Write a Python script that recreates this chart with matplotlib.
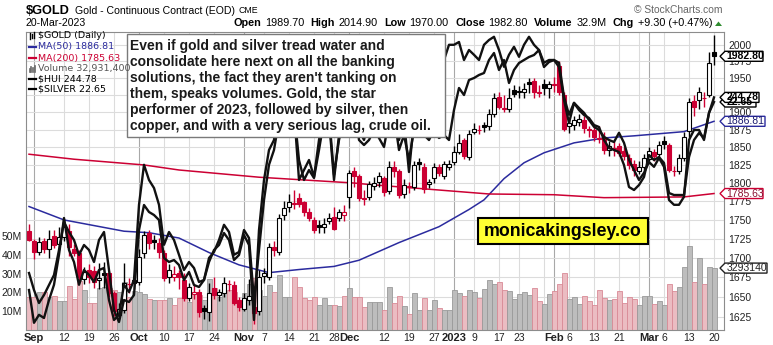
import matplotlib
matplotlib.use("Agg")
import matplotlib.pyplot as plt
import matplotlib.transforms as mtransforms
from matplotlib.patches import Rectangle, Polygon
from matplotlib.lines import Line2D
from matplotlib.ticker import NullLocator, NullFormatter
import pandas as pd

plt.rcParams['font.family'] = ['Liberation Sans', 'DejaVu Sans']

# trading days on the chart (CME holidays dropped)
holidays = ['2022-09-05', '2022-11-24', '2022-12-26', '2023-01-02', '2023-01-16', '2023-02-20']
dates = pd.bdate_range('2022-08-31', '2023-03-20')
dates = dates[~dates.isin(pd.to_datetime(holidays))]

close_before = 1737  # Aug 30 close, only used to colour the first candle

opens = [1735, 1722, 1708, 1722, 1712, 1729, 1718, 1728, 1735, 1712,
         1707, 1673, 1685, 1683, 1672, 1681, 1680, 1655, 1628, 1634,
         1666, 1668, 1669, 1706, 1733, 1724, 1720, 1706, 1675, 1676,
         1680, 1672, 1649, 1654, 1656, 1636, 1631, 1662, 1653, 1655,
         1666, 1665, 1646, 1635, 1646, 1638, 1632, 1677, 1676, 1714,
         1708, 1757, 1768, 1771, 1780, 1774, 1761, 1750, 1743, 1740,
         1749, 1754, 1752, 1757, 1781, 1816, 1809, 1779, 1781, 1796,
         1801, 1807, 1789, 1822, 1817, 1785, 1795, 1795, 1829, 1822,
         1798, 1807, 1822, 1810, 1822, 1829, 1843, 1860, 1836, 1872,
         1874, 1881, 1880, 1897, 1922, 1904, 1905, 1933, 1929, 1929,
         1945, 1946, 1928, 1942, 1936, 1941, 1968, 1925, 1880, 1882,
         1886, 1888, 1876, 1874, 1862, 1864, 1846, 1848, 1851, 1845,
         1835, 1827, 1817, 1822, 1833, 1843, 1841, 1858, 1853, 1816,
         1816, 1835, 1873, 1917, 1918, 1920, 1925, 1989.7]
highs = [1745, 1725, 1727, 1726, 1737, 1737, 1740, 1750, 1745, 1718,
         1710, 1688, 1692, 1690, 1694, 1695, 1683, 1657, 1643, 1693,
         1674, 1678, 1712, 1735, 1737, 1730, 1726, 1710, 1692, 1690,
         1685, 1680, 1668, 1666, 1660, 1640, 1668, 1675, 1660, 1675,
         1672, 1670, 1650, 1655, 1673, 1643, 1685, 1687, 1720, 1722,
         1758, 1775, 1785, 1790, 1786, 1776, 1766, 1754, 1750, 1753,
         1759, 1768, 1765, 1770, 1818, 1822, 1812, 1790, 1803, 1808,
         1815, 1810, 1830, 1830, 1820, 1805, 1802, 1830, 1835, 1828,
         1806, 1828, 1826, 1830, 1832, 1852, 1868, 1863, 1874, 1884,
         1882, 1886, 1905, 1928, 1930, 1925, 1935, 1940, 1938, 1943,
         1950, 1950, 1940, 1948, 1946, 1952, 1975, 1930, 1888, 1895,
         1898, 1895, 1880, 1878, 1880, 1872, 1858, 1858, 1856, 1850,
         1840, 1832, 1830, 1840, 1850, 1848, 1858, 1866, 1856, 1824,
         1840, 1872, 1920, 1925, 1937, 1930, 1990, 2014.9]
lows = [1722, 1698, 1704, 1707, 1700, 1713, 1714, 1722, 1703, 1703,
        1668, 1666, 1668, 1662, 1660, 1662, 1650, 1626, 1622, 1630,
        1655, 1660, 1665, 1700, 1712, 1712, 1700, 1670, 1668, 1670,
        1660, 1645, 1645, 1648, 1625, 1622, 1620, 1647, 1645, 1650,
        1658, 1640, 1632, 1632, 1640, 1617, 1628, 1668, 1672, 1702,
        1704, 1750, 1760, 1765, 1768, 1755, 1748, 1733, 1732, 1733,
        1744, 1736, 1748, 1749, 1766, 1795, 1775, 1770, 1777, 1790,
        1795, 1782, 1785, 1808, 1780, 1780, 1786, 1790, 1818, 1787,
        1793, 1800, 1810, 1805, 1818, 1825, 1840, 1834, 1832, 1868,
        1868, 1872, 1875, 1893, 1905, 1900, 1900, 1922, 1920, 1920,
        1928, 1920, 1922, 1925, 1920, 1930, 1925, 1873, 1870, 1875,
        1880, 1870, 1865, 1858, 1856, 1840, 1838, 1838, 1838, 1832,
        1820, 1810, 1812, 1818, 1830, 1830, 1838, 1848, 1815, 1810,
        1812, 1830, 1865, 1895, 1905, 1908, 1922, 1970]
closes = [1724, 1708, 1721, 1711, 1725, 1717, 1728, 1740, 1714, 1707,
          1676, 1682, 1676, 1669, 1674, 1678, 1655, 1632, 1635, 1668,
          1667, 1671, 1701, 1730, 1719, 1721, 1708, 1674, 1685, 1679,
          1676, 1649, 1663, 1656, 1631, 1633, 1655, 1652, 1656, 1668,
          1667, 1643, 1638, 1649, 1651, 1630, 1675, 1680, 1714, 1710,
          1753, 1766, 1774, 1773, 1772, 1761, 1753, 1737, 1741, 1745,
          1752, 1738, 1761, 1760, 1814, 1809, 1779, 1778, 1799, 1800,
          1810, 1788, 1822, 1817, 1784, 1797, 1796, 1825, 1826, 1792,
          1802, 1822, 1814, 1826, 1827, 1843, 1856, 1838, 1868, 1876,
          1875, 1879, 1898, 1921, 1907, 1906, 1921, 1927, 1931, 1934,
          1941, 1930, 1929, 1936, 1942, 1940, 1930, 1876, 1884, 1889,
          1890, 1877, 1875, 1864, 1863, 1846, 1852, 1849, 1842, 1838,
          1825, 1818, 1822, 1835, 1845, 1838, 1853, 1855, 1818, 1817,
          1835, 1865, 1915, 1908, 1930, 1921, 1973, 1982.8]
# volume in millions
volumes = [17.4, 17.4, 20.4, 20.4, 17.4, 18.3, 15.4, 15.4, 23.4, 16.5,
           26.1, 21.3, 14.2, 14.2, 22.2, 23.0, 22.2, 21.3, 20.4, 25.7,
           17.7, 20.9, 20.4, 19.1, 16.7, 16.0, 16.0, 16.0, 16.8, 13.3,
           16.8, 17.7, 15.0, 19.5, 18.6, 16.0, 27.0, 22.2, 17.7, 19.5,
           21.3, 20.4, 14.2, 19.5, 24.5, 27.5, 21.3, 18.0, 24.0, 20.0,
           29.0, 17.7, 17.7, 28.4, 23.0, 17.0, 16.0, 17.7, 13.5, 17.0,
           13.5, 13.5, 13.0, 18.3, 22.3, 17.7, 17.7, 12.4, 15.0, 15.0,
           15.0, 10.6, 22.9, 14.5, 18.1, 12.8, 8.3, 19.6, 10.6, 17.0,
           10.6, 16.0, 11.7, 10.6, 10.6, 21.3, 19.5, 18.1, 21.3, 20.4,
           17.0, 21.8, 26.6, 24.5, 25.7, 21.3, 20.7, 16.7, 19.3, 20.4,
           18.6, 22.2, 15.4, 13.8, 19.3, 20.7, 24.5, 30.1, 16.7, 17.7,
           13.7, 18.1, 15.4, 13.3, 21.3, 17.0, 16.0, 16.4, 20.7, 14.2,
           17.4, 16.7, 13.3, 18.1, 18.1, 13.8, 15.4, 13.3, 24.3, 20.7,
           22.7, 33.7, 44.7, 25.4, 38.1, 24.5, 33.7, 32.93]
silver = [17.95, 17.13, 17.33, 17.25, 17.70, 18.08, 18.83, 19.75, 18.95, 18.65,
          18.08, 18.45, 18.33, 18.15, 18.45, 18.50, 17.70, 17.20, 17.33, 18.08,
          17.90, 18.20, 20.08, 21.08, 20.70, 20.50, 20.08, 19.08, 19.40, 19.20,
          18.83, 18.45, 18.65, 18.50, 18.15, 18.20, 18.75, 18.90, 19.20, 19.58,
          19.40, 18.83, 18.90, 19.45, 19.25, 17.70, 18.95, 20.20, 21.08, 21.45,
          22.20, 22.83, 22.70, 22.45, 21.20, 20.70, 20.95, 20.75, 21.45, 22.20,
          22.33, 20.83, 21.70, 22.20, 23.20, 22.95, 21.95, 21.70, 22.20, 22.45,
          22.83, 22.20, 23.08, 22.83, 21.70, 22.20, 20.90, 22.20, 22.70, 22.08,
          22.33, 23.20, 23.33, 23.70, 24.08, 24.08, 24.15, 23.70, 23.95, 23.83,
          23.70, 24.08, 24.20, 24.28, 23.95, 23.53, 23.83, 24.03, 23.78, 24.08,
          24.28, 24.08, 23.95, 23.63, 23.70, 23.70, 23.63, 22.78, 22.33, 22.63,
          22.50, 22.38, 22.20, 22.03, 21.95, 21.78, 21.70, 21.65, 21.88, 21.63,
          21.20, 20.95, 20.70, 20.88, 21.15, 21.03, 21.25, 21.03, 20.20, 20.08,
          20.08, 20.28, 21.70, 21.95, 21.95, 21.70, 22.38, 22.65]
hui = [192.1, 187.0, 183.1, 185.5, 188.5, 191.5, 199.0, 207.4, 204.4, 202.0,
       197.5, 200.5, 199.0, 195.4, 202.0, 204.4, 193.0, 181.0, 177.4, 184.0,
       183.4, 185.5, 205.0, 212.5, 210.4, 209.5, 208.0, 196.6, 195.4, 196.0,
       194.5, 190.0, 192.4, 188.5, 187.9, 190.0, 195.4, 199.0, 200.5, 204.1,
       202.0, 196.0, 197.5, 203.5, 200.5, 178.0, 205.0, 220.0, 229.0, 232.0,
       244.0, 248.5, 245.5, 241.0, 220.0, 223.0, 226.0, 220.9, 232.0, 241.0,
       238.0, 220.0, 233.5, 236.5, 247.0, 244.0, 232.0, 230.5, 232.0, 235.0,
       232.6, 229.9, 238.0, 239.5, 229.0, 233.5, 226.0, 235.0, 238.0, 233.5,
       232.0, 235.0, 232.6, 233.5, 232.0, 241.0, 247.6, 245.5, 250.0, 250.6,
       251.5, 252.1, 256.0, 258.1, 253.0, 256.0, 249.1, 253.0, 255.1, 256.0,
       256.9, 257.5, 259.0, 253.9, 255.4, 256.0, 253.9, 244.0, 237.1, 243.1,
       241.0, 239.5, 238.6, 236.5, 235.9, 232.0, 229.6, 229.0, 228.4, 224.5,
       217.9, 217.0, 218.5, 220.9, 227.5, 226.0, 226.9, 225.1, 216.1, 215.5,
       215.5, 215.5, 226.9, 232.0, 234.1, 232.6, 240.1, 244.78]

ma50_idx = [0, 7, 19, 24, 30, 36, 42, 48, 54, 61, 66, 74, 82, 88, 91, 95, 99, 103, 109, 115, 121, 131, 137]
ma50_val = [1768, 1750, 1735, 1733, 1726, 1707, 1691, 1681, 1685, 1689, 1697, 1720, 1741, 1764, 1777,
            1806, 1828, 1842, 1856, 1863, 1866, 1872, 1886.81]
ma200_idx = [0, 9, 16, 23, 30, 46, 65, 68, 92, 105, 115, 131, 137]
ma200_val = [1840, 1833, 1829, 1825, 1818, 1808, 1800, 1798, 1785, 1784, 1780, 1781, 1785.63]

price_ticks = [1625, 1650, 1675, 1700, 1725, 1750, 1775, 1800, 1825, 1850, 1875, 1900, 1925, 1950, 1975, 2000]
hidden_price_labels = [1925]  # fully covered by the $HUI / $SILVER tags
vol_ticks = [10, 20, 30, 40, 50]
tick_dates = ['2022-09-01', '2022-09-12', '2022-09-19', '2022-09-26', '2022-10-03', '2022-10-10',
              '2022-10-17', '2022-10-24', '2022-11-01', '2022-11-07', '2022-11-14', '2022-11-21',
              '2022-11-28', '2022-12-01', '2022-12-12', '2022-12-19', '2022-12-27', '2023-01-03',
              '2023-01-09', '2023-01-17', '2023-01-23', '2023-02-01', '2023-02-06', '2023-02-13',
              '2023-02-21', '2023-03-01', '2023-03-06', '2023-03-13', '2023-03-20']
tick_labels = ['Sep', '12', '19', '26', 'Oct', '10', '17', '24', 'Nov', '7', '14', '21', '28',
               'Dec', '12', '19', '27', '2023', '9', '17', '23', 'Feb', '6', '13', '21',
               'Mar', '6', '13', '20']
bold_labels = ['Sep', 'Oct', 'Nov', 'Dec', '2023', 'Feb', 'Mar']
extra_grid_dates = ['2022-12-05', '2023-01-30', '2023-02-27']

note_lines = ["Even if gold and silver tread water and",
              "consolidate here next on all the banking",
              "solutions, the fact they aren't tanking on",
              "them, speaks volumes. Gold, the star",
              "performer of 2023, followed by silver, then",
              "copper, and with a very serious lag, crude oil."]

RED = '#CC0033'
NAVY = '#2B2B9E'
W, H = 773, 345


def fx(px):
    return px / W


def fy(py):
    return 1 - py / H


fig = plt.figure(figsize=(W / 100, H / 100), dpi=100)
renderer = fig.canvas.get_renderer()
rect = [fx(26), fy(330), (724 - 26) / W, (330 - 32) / H]
n = len(closes)
xs = list(range(n))

# bottom axes: grid + volume
axv = fig.add_axes(rect, zorder=0)
ax = fig.add_axes(rect, sharex=axv, zorder=1)
axh = fig.add_axes(rect, sharex=axv, zorder=2)
axs = fig.add_axes(rect, sharex=axv, zorder=3)

axv.set_xlim(-0.6, 139)
axv.set_ylim(0, 158.5)
ax.set_yscale('log')
ax.set_ylim(1609, 2019.9)
axh.set_ylim(175, 264.4)
axs.set_ylim(16.95, 24.4)

for a in (ax, axh, axs):
    a.patch.set_visible(False)
    for s in a.spines.values():
        s.set_visible(False)
for a in (axh, axs):
    a.set_yticks([])
    a.tick_params(axis='x', bottom=False, labelbottom=False)
for s in axv.spines.values():
    s.set_color('#8c8c8c')
    s.set_linewidth(0.8)

# gridlines
tick_idx = [dates.get_loc(pd.Timestamp(d)) for d in tick_dates]
extra_idx = [dates.get_loc(pd.Timestamp(d)) for d in extra_grid_dates]
for t, lab in zip(tick_idx, tick_labels):
    axv.axvline(t, color='#a8a8a8' if lab in bold_labels else '#dcdcdc', lw=0.8, zorder=0)
for t in extra_idx:
    axv.axvline(t, color='#dcdcdc', lw=0.8, zorder=0)
blend = mtransforms.blended_transform_factory(axv.transAxes, ax.transData)
for p in price_ticks:
    axv.plot([0, 1], [p, p], transform=blend, color='#dcdcdc', lw=0.8, zorder=0)

# volume bars
vcol, vedge = [], []
for i in range(n):
    prev = closes[i - 1] if i else close_before
    if closes[i] >= prev:
        vcol.append('#bdbdbd'); vedge.append('#9a9a9a')
    else:
        vcol.append('#ebbcc2'); vedge.append('#d98a96')
axv.bar(xs, volumes, width=1.0, color=vcol, edgecolor=vedge, lw=0.6, zorder=2)

axv.set_yticks(vol_ticks)
axv.set_yticklabels([f'{v}M' for v in vol_ticks])
axv.tick_params(axis='y', length=0, pad=3, labelsize=7.5, colors='#222')
axv.set_xticks(tick_idx)
axv.set_xticklabels(tick_labels)
axv.tick_params(axis='x', length=0, pad=2.5, labelsize=7.5, colors='#222')
for lab in axv.get_xticklabels():
    if lab.get_text() in bold_labels:
        lab.set_fontweight('bold')
        lab.set_fontsize(8)

# price axis labels on the right
ax.yaxis.set_minor_locator(NullLocator())
ax.yaxis.set_minor_formatter(NullFormatter())
ax.set_yticks(price_ticks)
ax.set_yticklabels(['' if p in hidden_price_labels else str(p) for p in price_ticks])
ax.yaxis.tick_right()
ax.tick_params(axis='y', length=0, pad=3, labelsize=7.5, colors='#222')
ax.tick_params(axis='x', bottom=False, labelbottom=False)

# moving averages
ax.plot(ma50_idx, ma50_val, color=NAVY, lw=1.1, zorder=2)
ax.plot(ma200_idx, ma200_val, color=RED, lw=1.1, zorder=2)

# candles
for i in range(n):
    prev = closes[i - 1] if i else close_before
    col = '#000000' if closes[i] >= prev else RED
    ax.vlines(i, lows[i], highs[i], color=col, lw=1.0, zorder=3)
    lo, hi = min(opens[i], closes[i]), max(opens[i], closes[i])
    face = 'white' if closes[i] >= opens[i] else col
    ax.add_patch(Rectangle((i - 0.36, lo), 0.72, max(hi - lo, 0.4), facecolor=face,
                           edgecolor=col, lw=0.8, zorder=4))

# overlays
axh.plot(xs, hui, color='#111111', lw=1.7, zorder=5)
axs.plot(xs, silver, color='#111111', lw=1.7, zorder=5)


# value tags on the right edge
def tag(axis, value, text, edge, tcolor, bold, width):
    py = H - axis.transData.transform((0, value))[1]
    pts = [(720, py), (725, py - 5), (725 + width, py - 5), (725 + width, py + 5), (725, py + 5)]
    fig.add_artist(Polygon([(fx(a), fy(b)) for a, b in pts], closed=True, transform=fig.transFigure,
                           facecolor='white', edgecolor=edge, lw=1.0, zorder=20))
    fig.text(fx(726.5), fy(py), text, ha='left', va='center', fontsize=7.5, color=tcolor,
             fontweight='bold' if bold else 'normal', zorder=21)


tag(ax, 1785.63, '1785.63', RED, '#8a1030', False, 38)
tag(ax, 1886.81, '1886.81', NAVY, '#1a1a70', False, 40)
tag(axv, volumes[-1], '3293140', '#222', '#222', False, 42)
tag(axs, silver[-1], '22.65', '#000', '#000', True, 31)
tag(axh, hui[-1], '244.78', '#000', '#000', True, 34)
tag(ax, closes[-1], '1982.80', '#000', '#000', True, 38)

# legend inside plot
leg = [("$GOLD (Daily)", '#000'), ("MA(50) 1886.81", NAVY), ("MA(200) 1785.63", RED),
       ("Volume 32,931,400", '#555'), ("$HUI 244.78", '#000'), ("$SILVER 22.65", '#000')]
leg_y = [36, 47, 58, 69, 79, 89]
for (s, c), y in zip(leg, leg_y):
    fig.text(fx(38), fy(y), s, ha='left', va='center', fontsize=6.8, color=c,
             family='DejaVu Sans', zorder=15)
for y, c in ((47, NAVY), (58, RED), (79, '#000'), (89, '#000')):
    fig.add_artist(Line2D([fx(29), fx(35.5)], [fy(y), fy(y)], color=c, lw=1.6, zorder=15))
for k, (lo_, hi_) in enumerate(((33, 39), (34, 38), (32, 38))):
    fig.add_artist(Line2D([fx(30 + 2 * k)] * 2, [fy(hi_), fy(lo_)], color='#000', lw=1.0, zorder=15))
for k, hgt in enumerate((3, 5, 4, 6)):
    fig.add_artist(Line2D([fx(29.5 + 1.8 * k)] * 2, [fy(72), fy(72 - hgt)], color='#666', lw=1.2, zorder=15))

# annotation box
fig.add_artist(Rectangle((fx(127), fy(137)), (445 - 127) / W, (137 - 34) / H, transform=fig.transFigure,
                         facecolor='white', edgecolor='#7a7a7a', lw=1.0, zorder=10))
for k, line in enumerate(note_lines):
    fig.text(fx(130), fy(46 + 16 * k), line, ha='left', va='center', fontsize=10,
             fontweight='bold', color='#1a1a1a', zorder=11)

# site label
fig.add_artist(Rectangle((fx(478), fy(244)), (648 - 478) / W, (244 - 218) / H, transform=fig.transFigure,
                         facecolor='#FFFF33', edgecolor='#000', lw=1.5, zorder=10))
fig.text(fx(563), fy(231.5), 'monicakingsley.co', ha='center', va='center', fontsize=12.8,
         fontweight='bold', color='#000', zorder=11)

# header, left part laid out piece by piece
xl = 26
for s, size, weight, gap in (('$GOLD', 9.2, 'bold', 5), ('Gold - Continuous Contract (EOD)', 7.6, 'normal', 4),
                             ('CME', 6.3, 'normal', 0)):
    t = fig.text(fx(xl), fy(10.5), s, ha='left', va='center', fontsize=size, fontweight=weight)
    xl += t.get_window_extent(renderer=renderer).width + gap
fig.text(fx(26), fy(23.5), '20-Mar-2023', ha='left', va='center', fontsize=7.6)
fig.text(fx(722), fy(10), '\u00a9 StockCharts.com', ha='right', va='center', fontsize=7.4, color='#666')

pieces = [("Open", True), ("1989.70", False), ("High", True), ("2014.90", False),
          ("Low", True), ("1970.00", False), ("Close", True), ("1982.80", False),
          ("Volume", True), ("32.9M", False), ("Chg", True), ("+9.30 (+0.47%)", False)]
xr = 712
for s, b in reversed(pieces):
    t = fig.text(fx(xr), fy(23.5), s, ha='right', va='center', fontsize=7.8,
                 fontweight='bold' if b else 'normal')
    w = t.get_window_extent(renderer=renderer).width
    xr -= w + (6.5 if b else 3.5)
fig.add_artist(Polygon([(fx(715), fy(26)), (fx(722), fy(26)), (fx(718.5), fy(21.5))], closed=True,
                       transform=fig.transFigure, facecolor='#2e8b2e', edgecolor='none'))

fig.savefig('out.png', dpi=100)
